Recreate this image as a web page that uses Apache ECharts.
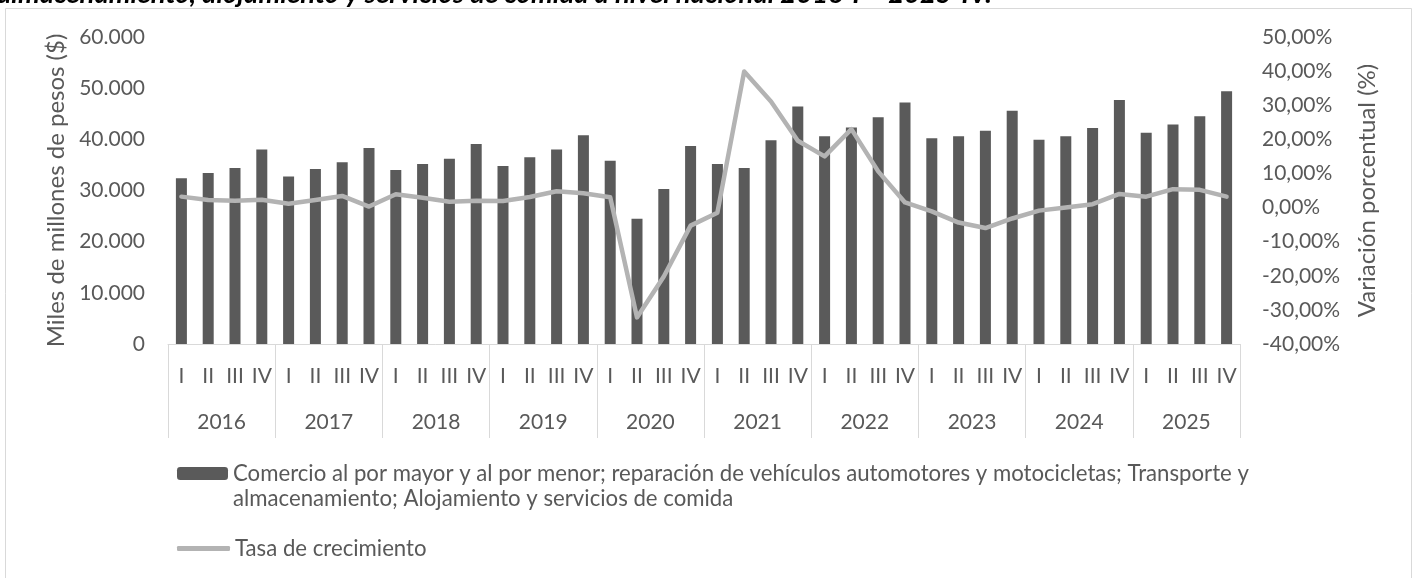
<!DOCTYPE html>
<html>
<head>
<meta charset="utf-8">
<script src="https://cdn.jsdelivr.net/npm/echarts@6/dist/echarts.min.js"></script>
<style>
  html, body { margin: 0; padding: 0; background: #fff; }
  #chart { width: 1416px; height: 578px; }
</style>
</head>
<body>
<div id="chart"></div>
<script>
// Etiquetas del eje
const years = ['2016', '2017', '2018', '2019', '2020', '2021', '2022', '2023', '2024', '2025']
const quarters = ['I', 'II', 'III', 'IV']
const categories = years.flatMap((y) => quarters.map((q) => q))

const barName = 'Comercio al por mayor y al por menor; reparación de vehículos automotores y motocicletas; Transporte y almacenamiento; Alojamiento y servicios de comida'
const lineName = 'Tasa de crecimiento'

// Miles de millones de pesos, 2016-I .. 2025-IV
const valorAgregado = [
  32400, 33400, 34400, 38000,
  32750, 34200, 35500, 38300,
  34000, 35200, 36200, 39100,
  34800, 36500, 38000, 40800,
  35800, 24500, 30300, 38700,
  35200, 34400, 39800, 46400,
  40600, 42300, 44300, 47200,
  40200, 40600, 41700, 45600,
  39900, 40600, 42200, 47700,
  41300, 42900, 44500, 49400,
]

// Variación porcentual (%)
const tasaCrecimiento = [
  3.2, 2.2, 2.0, 2.3,
  1.1, 2.2, 3.4, 0.3,
  3.9, 2.9, 1.7, 2.0,
  1.9, 3.1, 4.8, 4.2,
  3.0, -32.2, -20.2, -5.3,
  -1.5, 39.9, 31.1, 19.6,
  15.0, 23.0, 10.6, 1.5,
  -1.1, -4.4, -6.0, -3.2,
  -0.9, 0.0, 1.0, 4.0,
  3.2, 5.4, 5.2, 3.2,
]

const titleText = 'almacenamiento, alojamiento y servicios de comida a nivel nacional 2016-I – 2025-IV.'

const FONT = 'Lato, "Open Sans", sans-serif'
const TEXT = '#595959'
const AXIS = '#d9d9d9'

const chart = echarts.init(document.getElementById('chart'), null, { renderer: 'canvas' })

chart.setOption({
  backgroundColor: '#fff',
  animation: false,
  textStyle: { fontFamily: FONT },
  graphic: [
    {
      type: 'rect',
      z: -1,
      shape: { x: 5.5, y: 8.5, width: 1406, height: 600 },
      style: { fill: 'none', stroke: AXIS, lineWidth: 1 },
    },
    {
      type: 'text',
      left: -3,
      top: -19,
      style: {
        text: titleText,
        font: 'italic bold 27.5px ' + FONT,
        fill: '#000',
      },
    },
  ],
  grid: { left: 168, right: 176, top: 37, bottom: 234 },
  legend: [
    {
      data: [barName],
      left: 172,
      top: 431,
      itemWidth: 51,
      itemHeight: 13,
      // línea vacía arriba para que el icono quede alineado con la primera línea
      formatter: () => '\u00a0\nComercio al por mayor y al por menor; reparación de vehículos automotores y motocicletas; Transporte y\nalmacenamiento; Alojamiento y servicios de comida',
      textStyle: { color: TEXT, fontSize: 22.2, lineHeight: 25 },
    },
    {
      data: [lineName],
      left: 172,
      top: 531,
      icon: 'roundRect',
      itemWidth: 53,
      itemHeight: 5,
      itemStyle: { color: '#b3b3b3' },
      textStyle: { color: TEXT, fontSize: 22.2, lineHeight: 25 },
    },
  ],
  xAxis: [
    {
      type: 'category',
      data: categories,
      position: 'bottom',
      axisLine: { onZero: false, lineStyle: { color: AXIS, width: 1 } },
      axisTick: { show: false },
      axisLabel: { color: TEXT, fontSize: 21, margin: 22, interval: 0 },
    },
    {
      type: 'category',
      data: years,
      position: 'bottom',
      axisLine: { show: false, onZero: false },
      axisTick: { show: true, length: 94, lineStyle: { color: AXIS } },
      axisLabel: { color: TEXT, fontSize: 21, margin: 68, interval: 0 },
    },
  ],
  yAxis: [
    {
      type: 'value',
      min: 0,
      max: 60000,
      interval: 10000,
      name: 'Miles de millones de pesos ($)',
      nameLocation: 'middle',
      nameRotate: 90,
      nameGap: 98,
      nameTextStyle: { color: TEXT, fontSize: 24 },
      axisLine: { show: false },
      axisTick: { show: false },
      splitLine: { show: false },
      axisLabel: {
        color: TEXT,
        fontSize: 21,
        margin: 23,
        formatter: (v) => (v === 0 ? '0' : (v / 1000).toFixed(3)),
      },
    },
    {
      type: 'value',
      min: -40,
      max: 50,
      interval: 10,
      position: 'right',
      name: 'Variación porcentual (%)',
      nameLocation: 'middle',
      nameRotate: 90,
      nameGap: 115,
      nameTextStyle: { color: TEXT, fontSize: 24 },
      axisLine: { show: false },
      axisTick: { show: false },
      splitLine: { show: false },
      axisLabel: {
        color: TEXT,
        fontSize: 21,
        margin: 22,
        formatter: (v) => v.toFixed(2).replace('.', ',') + '%',
      },
    },
  ],
  series: [
    {
      name: barName,
      type: 'bar',
      data: valorAgregado,
      xAxisIndex: 0,
      yAxisIndex: 0,
      barWidth: 11,
      itemStyle: { color: '#5a5a5a' },
    },
    {
      name: lineName,
      type: 'line',
      data: tasaCrecimiento,
      xAxisIndex: 0,
      yAxisIndex: 1,
      symbol: 'none',
      lineStyle: { color: '#b3b3b3', width: 4.5, cap: 'round', join: 'round' },
      itemStyle: { color: '#b3b3b3' },
    },
  ],
})

window.addEventListener('resize', () => chart.resize())
</script>
</body>
</html>
